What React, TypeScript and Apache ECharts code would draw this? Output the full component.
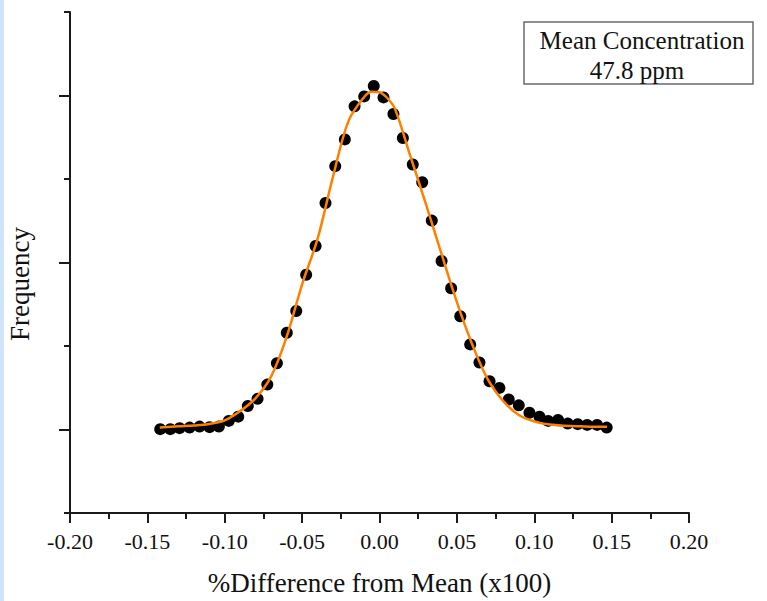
import React, { useEffect, useRef } from "react";
import * as echarts from "echarts";

// Measured points (% difference, frequency in arbitrary units)
const pointX = [
  -0.1417, -0.1352, -0.1292, -0.1227, -0.1163, -0.1098, -0.1038, -0.0974, -0.0913, -0.0851,
  -0.0788, -0.0725, -0.0663, -0.0599, -0.0538, -0.0474, -0.0413, -0.0349, -0.0286, -0.0224,
  -0.0161, -0.0099, -0.0037, 0.0026, 0.009, 0.0151, 0.0215, 0.0276, 0.0338, 0.0401,
  0.0463, 0.0522, 0.0586, 0.0646, 0.0711, 0.0775, 0.0835, 0.09, 0.0969, 0.1034,
  0.109, 0.1154, 0.1216, 0.1281, 0.1342, 0.1406, 0.1468,
];
const pointY = [
  1.004, 1.004, 1.016, 1.023, 1.035, 1.028, 1.035, 1.103, 1.154, 1.281,
  1.367, 1.538, 1.794, 2.158, 2.419, 2.854, 3.198, 3.712, 4.154, 4.474,
  4.87, 4.989, 5.114, 4.977, 4.779, 4.491, 4.174, 3.961, 3.502, 3.018,
  2.692, 2.356, 2.019, 1.802, 1.577, 1.498, 1.36, 1.289, 1.201, 1.154,
  1.103, 1.115, 1.071, 1.064, 1.055, 1.055, 1.023,
];

// Gaussian fit curve
const fitX = [
  -0.142, -0.13, -0.12, -0.11, -0.1, -0.09, -0.08, -0.07, -0.06, -0.05,
  -0.04, -0.03, -0.02, -0.01, -0.005, 0.0, 0.005, 0.01, 0.02, 0.03,
  0.04, 0.05, 0.06, 0.07, 0.08, 0.09, 0.1, 0.11, 0.12, 0.13, 0.14, 0.147,
];
const fitY = [
  1.023, 1.038, 1.049, 1.067, 1.109, 1.221, 1.376, 1.636, 2.111, 2.739,
  3.285, 4.032, 4.696, 4.98, 5.045, 5.04, 4.97, 4.84, 4.27, 3.7,
  3.107, 2.526, 2.016, 1.6, 1.34, 1.174, 1.097, 1.059, 1.044, 1.038, 1.034, 1.034,
];

const xTitle = "%Difference from Mean (x100)";
const yTitle = "Frequency";
const noteLines = ["Mean Concentration", "47.8 ppm"];

const FONT = "'Liberation Serif', 'Times New Roman', serif";

export default function App() {
  const ref = useRef<HTMLDivElement>(null);
  useEffect(() => {
    if (!ref.current) return;
    const chart = echarts.init(ref.current, null, { renderer: "svg" });
    const axisColor = "#1a1a1a";
    chart.setOption({
      animation: false,
      backgroundColor: "#ffffff",
      grid: { left: 70, right: 78, top: 12, bottom: 83, containLabel: false },
      xAxis: {
        type: "value",
        min: -0.2,
        max: 0.2,
        interval: 0.05,
        name: xTitle,
        nameLocation: "middle",
        nameGap: 56,
        nameTextStyle: { fontFamily: FONT, fontSize: 27, color: "#111" },
        axisLine: { show: true, onZero: false, lineStyle: { color: axisColor, width: 2 } },
        axisTick: { show: true, length: 10, lineStyle: { color: axisColor, width: 2 } },
        minorTick: { show: true, splitNumber: 2, length: 6, lineStyle: { color: axisColor, width: 2 } },
        splitLine: { show: false },
        minorSplitLine: { show: false },
        axisLabel: {
          margin: 17,
          fontFamily: FONT,
          fontSize: 22,
          color: "#111",
          formatter: (v: number) => v.toFixed(2),
        },
      },
      yAxis: {
        type: "value",
        min: 0,
        max: 6,
        interval: 2,
        axisLine: { show: true, onZero: false, lineStyle: { color: axisColor, width: 2 } },
        axisTick: { show: true, length: 6, lineStyle: { color: axisColor, width: 2 } },
        minorTick: { show: true, splitNumber: 2, length: 11, lineStyle: { color: axisColor, width: 2 } },
        splitLine: { show: false },
        minorSplitLine: { show: false },
        axisLabel: { show: false },
      },
      series: [
        {
          type: "scatter",
          data: pointX.map((x, i) => [x, pointY[i]]),
          symbol: "circle",
          symbolSize: 12,
          itemStyle: { color: "#000000", opacity: 1 },
          z: 2,
        },
        {
          type: "line",
          data: fitX.map((x, i) => [x, fitY[i]]),
          showSymbol: false,
          smooth: 0.35,
          lineStyle: { color: "#ff8000", width: 2.5 },
          z: 3,
        },
      ],
      graphic: [
        {
          type: "rect",
          left: 0,
          top: 0,
          shape: { width: 4, height: 601 },
          style: { fill: "#d0e4fb" },
          silent: true,
        },
        {
          type: "text",
          x: 20,
          y: 284,
          rotation: Math.PI / 2,
          style: {
            text: yTitle,
            fontFamily: FONT,
            fontSize: 27,
            fill: "#111",
            align: "center",
            verticalAlign: "middle",
          },
        },
        {
          type: "rect",
          shape: { x: 524, y: 22, width: 229, height: 62 },
          style: { fill: "#ffffff", stroke: "#6b6b6b", lineWidth: 1.5 },
          z: 10,
        },
        {
          type: "text",
          x: 642,
          y: 40,
          style: {
            text: noteLines[0],
            fontFamily: FONT,
            fontSize: 25,
            fill: "#111",
            align: "center",
            verticalAlign: "middle",
          },
          z: 11,
        },
        {
          type: "text",
          x: 637,
          y: 70,
          style: {
            text: noteLines[1],
            fontFamily: FONT,
            fontSize: 25,
            fill: "#111",
            align: "center",
            verticalAlign: "middle",
          },
          z: 11,
        },
      ],
    });
    return () => chart.dispose();
  }, []);
  return (
    <div
      ref={ref}
      style={{ position: "fixed", left: 0, top: 0, width: 767, height: 601 }}
    />
  );
}
